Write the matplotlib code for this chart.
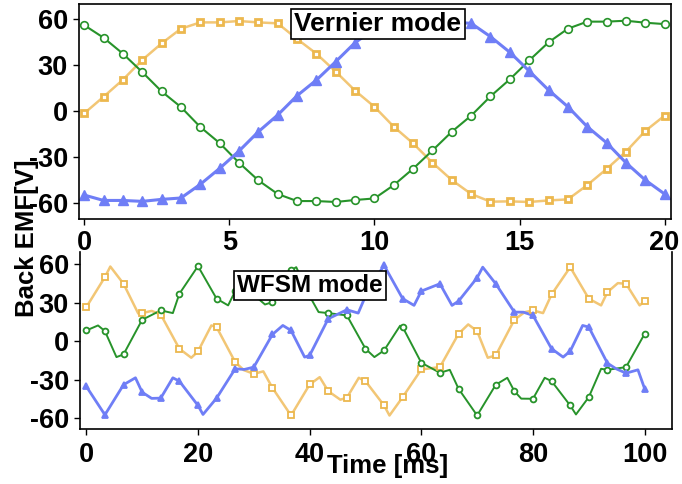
import matplotlib
matplotlib.use("Agg")
import matplotlib.pyplot as plt
import numpy as np

# DONNEES - VERNIER MODE (0..20 ms)
t_vernier = np.linspace(0, 20, 31)
green_vernier = [56, 47.8, 37.4, 25.4, 12.8, 2.6, -10.4, -20.9, -33.7, -45.2, -54.1, -58.7, -58.7, -59.3,
                 -58.0, -57.0, -48.3, -37.6, -25.7, -13.5, -3.0, 9.6, 20.7, 33.0, 44.8, 53.7, 58.3, 58.3,
                 58.9, 57.6, 56.7]
orange_vernier = [-1.5, 9.3, 20.4, 33.3, 44.1, 53.7, 57.8, 57.8, 58.7, 57.8, 57.2, 47.0, 37.4, 25.7,
                  13.3, 2.8, -10.2, -21.1, -33.7, -45.0, -54.1, -59.1, -58.9, -59.3, -58.3, -57.6, -48.3,
                  -37.8, -26.5, -13.0, -3.0]
blue_vernier = [-54.8, -58.3, -58.3, -58.9, -57.6, -56.7, -47.8, -37.4, -26.1, -13.5, -2.6, 10.0, 20.2,
                32.2, 44.6, 53.5, 57.8, 58.7, 58.5, 58.0, 57.2, 48.5, 38.3, 26.1, 13.7, 2.8, -10.2, -20.7,
                -33.7, -45.0, -54.1]

# DONNEES - WFSM MODE (0..100 ms), marqueurs
t_wfsm = np.linspace(0, 100, 31)
orange_wfsm = [26.4, 49.8, 44.6, 21.8, 20.7, -5.9, -8.0, 10.9, -16.3, -25.4, -36.3, -57.8, -33.7, -38.9,
               -44.0, -31.1, -50.0, -43.5, -22.0, -20.2, 5.7, 7.8, -11.1, 16.6, 23.9, 36.3, 57.5, 33.0,
               38.1, 44.6, 31.1]
green_wfsm = [8.3, 7.8, -10.3, 16.6, 23.9, 36.8, 58.3, 33.0, 38.9, 36.0, 30.3, 55.0, 35.0, 21.8, 20.0,
              -5.9, -7.2, 10.9, -16.8, -24.6, -37.0, -57.8, -33.9, -38.9, -44.8, -31.1, -50.0, -43.5,
              -22.3, -20.2, 5.7]
blue_wfsm = [-35.2, -57.3, -33.9, -39.7, -44.3, -31.1, -50.0, -44.3, -21.5, -20.2, 5.2, 8.3, -11.1, 17.4,
             24.4, 35.0, 58.9, 33.0, 38.9, 44.6, 31.1, 49.3, 44.6, 22.6, 20.0, -5.9, -7.8, 10.9, -17.1,
             -24.9, -37.0]

# points de la courbe entre les marqueurs (pics, creux, paliers)
orange_wfsm_t = [4.3, 9.3, 11.7, 18.8, 22.4, 28.2, 31.7, 41.8, 45.5, 48.8, 54.3, 68.4, 71.9, 78.5, 81.8,
                 92.2, 95.2, 99.1]
orange_wfsm_v = [58, 21.5, 23.5, -12.9, 12.2, -22.5, -23.5, -28, -45.5, -28.5, -57.8, 13, -12.9, 22.5,
                 21.8, 27.8, 45.1, 27.8]
green_wfsm_t = [2.1, 5.4, 15.5, 25.4, 28.3, 32.0, 37.6, 41.6, 51.6, 56.2, 65.1, 75.4, 77.9, 82.1, 87.7, 92.2]
green_wfsm_v = [12.2, -12.4, 21.8, 27.8, 43, 28.5, 57.5, 22.6, -12.4, 12, -22.3, -28.5, -44.7, -28.5,
                -57, -21.5]
blue_wfsm_t = [8.8, 11.7, 15.5, 20.9, 28.3, 35.2, 39.1, 48.7, 51.7, 58.7, 65.5, 71.0, 78.3, 85.4, 88.9,
               94.9, 98.8]
blue_wfsm_v = [-28.5, -44.5, -28.5, -57, -22, 12.2, -12.4, 21.8, 48, 27.8, 27.8, 57.5, 22.5, -12.4, 12.2,
               -21.5, -22.3]

GREEN = "#27932a"
ORANGE = "#f2c675"
ORANGE_DARK = "#ecb84e"
BLUE = "#6f7ef6"

plt.rcParams['font.family'] = ['Liberation Sans', 'DejaVu Sans']
plt.rcParams['font.weight'] = 'bold'
plt.rcParams['axes.unicode_minus'] = False


def courbe(t_mark, v_mark, t_extra, v_extra):
    # fusion marqueurs + points intermediaires, tri par t
    t = np.concatenate([t_mark, t_extra])
    v = np.concatenate([v_mark, v_extra])
    idx = np.argsort(t)
    return t[idx], v[idx]


def style_axes(ax):
    ax.tick_params(direction='out', length=4, width=1, labelsize=19.5, pad=4)
    for s in ax.spines.values():
        s.set_linewidth(1.2)


fig = plt.figure(figsize=(6.82, 4.84), dpi=100)

# GRAPHIQUE BAS - WFSM
ax2 = fig.add_axes([80 / 682, 1 - 429 / 484, 592 / 682, 177 / 484])
for tx, vx, tl, vl, col, mcol, mk, ms, lw, mfc in [
        (t_wfsm, orange_wfsm, orange_wfsm_t, orange_wfsm_v, ORANGE, ORANGE_DARK, 's', 4.2, 1.8, 'white'),
        (t_wfsm, green_wfsm, green_wfsm_t, green_wfsm_v, GREEN, GREEN, 'o', 4.2, 1.4, 'white'),
        (t_wfsm, blue_wfsm, blue_wfsm_t, blue_wfsm_v, BLUE, BLUE, '^', 5, 2.0, BLUE)]:
    tt, vv = courbe(tx, vx, tl, vl)
    ax2.plot(tt, vv, color=col, lw=lw, zorder=2)
    ax2.plot(tx, vx, ls='none', marker=mk, ms=ms, mfc=mfc, mec=mcol, mew=1.3, zorder=3)
ax2.set_xlim(-1.13, 104.9)
ax2.set_ylim(-68.3, 69.3)
ax2.set_xticks([0, 20, 40, 60, 80, 100])
ax2.set_yticks([-60, -30, 0, 30, 60])
ax2.spines['top'].set_visible(False)
style_axes(ax2)
ax2.tick_params(axis='x', pad=5)
ax2.text(40.06, 43.3, "WFSM mode", fontsize=17.5, ha='center', va='center', zorder=5,
         bbox=dict(boxstyle='square,pad=0.12', fc='white', ec='black', lw=1.2))

# GRAPHIQUE HAUT - VERNIER
ax1 = fig.add_axes([79 / 682, 1 - 219 / 484, 592 / 682, 215 / 484])
ax1.set_facecolor('white')
ax1.plot(t_vernier, orange_vernier, color=ORANGE, lw=1.8, marker='s', ms=5, mfc='white',
         mec=ORANGE_DARK, mew=2, zorder=2)
ax1.plot(t_vernier, green_vernier, color=GREEN, lw=1.5, marker='o', ms=5.5, mfc='white',
         mec=GREEN, mew=1.2, zorder=2)
ax1.plot(t_vernier, blue_vernier, color=BLUE, lw=2.2, marker='^', ms=6.5, mfc=BLUE,
         mec=BLUE, zorder=2)
ax1.set_xlim(-0.18, 20.22)
ax1.set_ylim(-70.4, 69.8)
ax1.set_xticks([0, 5, 10, 15, 20])
ax1.set_yticks([-60, -30, 0, 30, 60])
style_axes(ax1)
ax1.text(10.12, 56.7, "Vernier mode", fontsize=19, ha='center', va='center', zorder=5,
         bbox=dict(boxstyle='square,pad=0.12', fc='white', ec='black', lw=1.2))

# LABELS
fig.text(27 / 682, 1 - 238 / 484, "Back EMF[V]", rotation=90, fontsize=18.5,
         ha='center', va='center')
fig.text(388 / 682, 1 - 466 / 484, "Time [ms]", fontsize=18.5, ha='center', va='center')

fig.savefig("out.png", dpi=100)
